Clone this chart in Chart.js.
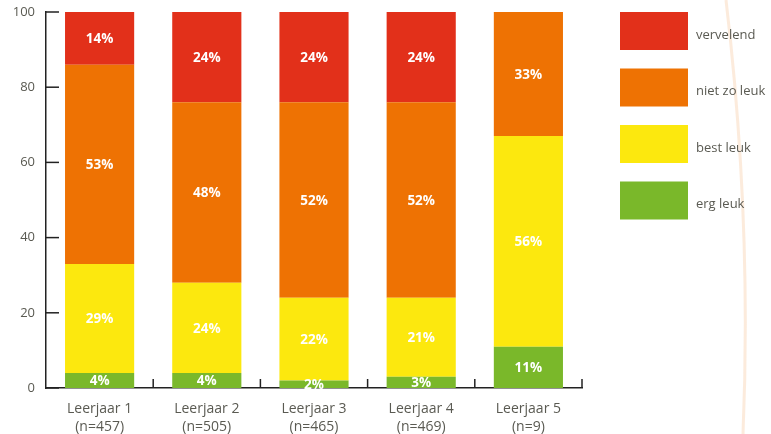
<!DOCTYPE html>
<html>
<head>
<meta charset="utf-8">
<script src="https://cdn.jsdelivr.net/npm/chart.js@4"></script>
<style>
  html, body { margin: 0; padding: 0; background: #fff; }
  #wrap { width: 771px; height: 434px; }
</style>
</head>
<body>
<div id="wrap"><canvas id="mychart" width="771" height="434"></canvas></div>
<script>
// categories and values (percentages)
const categories = [
    ["Leerjaar 1", "(n=457)"],
    ["Leerjaar 2", "(n=505)"],
    ["Leerjaar 3", "(n=465)"],
    ["Leerjaar 4", "(n=469)"],
    ["Leerjaar 5", "(n=9)"]
];
const seriesNames = ["erg leuk", "best leuk", "niet zo leuk", "vervelend"];
const ergLeuk = [4, 4, 2, 3, 11];
const bestLeuk = [29, 24, 22, 21, 56];
const nietZoLeuk = [53, 48, 52, 52, 33];
const vervelend = [14, 24, 24, 24, 0];
const yTicks = [0, 20, 40, 60, 80, 100];

const colors = ['#7AB82A', '#FCE80E', '#EE7203', '#E2301A'];
const gray = '#5a5a52';
const font = "'Open Sans', sans-serif";

// white % labels centred in every segment
const segmentLabels = {
    id: 'segmentLabels',
    afterDatasetsDraw(chart) {
        const ctx = chart.ctx;
        ctx.save();
        ctx.fillStyle = '#fff';
        ctx.font = "bold 13.5px " + font;
        ctx.textAlign = 'center';
        ctx.textBaseline = 'middle';
        chart.data.datasets.forEach((ds, i) => {
            const meta = chart.getDatasetMeta(i);
            meta.data.forEach((bar, j) => {
                const v = ds.data[j];
                if (!v) return;
                ctx.fillText(v + '%', bar.x, (bar.y + bar.base) / 2 + 1);
            });
        });
        ctx.restore();
    }
};

// inward ticks on both axes, legend and the faint curve on the right
const extras = {
    id: 'extras',
    beforeDraw(chart) {
        const ctx = chart.ctx;
        ctx.save();
        ctx.strokeStyle = 'rgba(250, 215, 185, 0.5)';
        ctx.lineWidth = 3;
        ctx.beginPath();
        ctx.moveTo(726, 0);
        ctx.quadraticCurveTo(752, 220, 743, 434);
        ctx.stroke();
        ctx.restore();
    },
    afterDraw(chart) {
        const ctx = chart.ctx;
        const area = chart.chartArea;
        const y = chart.scales.y;
        ctx.save();
        ctx.strokeStyle = '#222';
        ctx.lineWidth = 1.5;
        yTicks.forEach(t => {
            const py = y.getPixelForValue(t);
            ctx.beginPath();
            ctx.moveTo(area.left, py);
            ctx.lineTo(area.left + 13, py);
            ctx.stroke();
        });
        const step = (area.right - area.left) / categories.length;
        for (let i = 1; i <= categories.length; i++) {
            const px = area.left + i * step;
            ctx.beginPath();
            ctx.moveTo(px, area.bottom);
            ctx.lineTo(px, area.bottom - 9);
            ctx.stroke();
        }

        // legend, top item is the last dataset
        ctx.font = "13px " + font;
        ctx.textAlign = 'left';
        ctx.textBaseline = 'middle';
        const items = chart.data.datasets.slice().reverse();
        items.forEach((ds, k) => {
            const top = 12 + k * 56.5;
            ctx.fillStyle = ds.backgroundColor;
            ctx.fillRect(620, top, 68, 38);
            ctx.fillStyle = gray;
            ctx.fillText(ds.label, 696, top + 23);
        });
        ctx.restore();
    }
};

const seriesValues = [ergLeuk, bestLeuk, nietZoLeuk, vervelend];

new Chart(document.getElementById('mychart').getContext('2d'), {
    type: 'bar',
    data: {
        labels: categories,
        datasets: seriesNames.map((name, i) => ({
            label: name,
            data: seriesValues[i],
            backgroundColor: colors[i],
            borderWidth: 0,
            categoryPercentage: 1,
            barPercentage: 0.645
        }))
    },
    options: {
        responsive: false,
        animation: false,
        devicePixelRatio: 1,
        layout: { padding: { top: 12, right: 189, left: 0, bottom: 0 } },
        plugins: {
            legend: { display: false },
            tooltip: { enabled: false }
        },
        scales: {
            x: {
                stacked: true,
                grid: { display: false, drawTicks: false },
                border: { color: '#222', width: 1.5 },
                ticks: {
                    color: gray,
                    font: { family: font, size: 14, lineHeight: 1.3 },
                    padding: 12,
                    maxRotation: 0
                },
                afterFit(scale) {
                    scale.height = 46;
                    scale.paddingLeft = 0;
                    scale.paddingRight = 0;
                }
            },
            y: {
                stacked: true,
                min: 0,
                max: 100,
                grid: { display: false, drawTicks: false },
                border: { color: '#222', width: 1.5 },
                ticks: {
                    stepSize: 20,
                    color: gray,
                    font: { family: font, size: 13 },
                    padding: 11
                },
                afterFit(scale) {
                    scale.width = 46;
                    scale.paddingTop = 0;
                    scale.paddingBottom = 0;
                }
            }
        }
    },
    plugins: [segmentLabels, extras]
});
</script>
</body>
</html>
